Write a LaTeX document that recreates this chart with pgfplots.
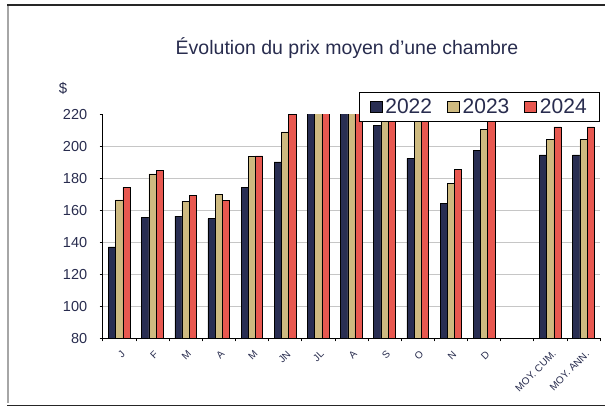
\documentclass[border=0pt]{standalone}
\usepackage{fontspec}
\setmainfont{Liberation Sans}
\usepackage{pgfplots}
\pgfplotsset{compat=1.18}
\definecolor{navy}{RGB}{41,46,82}
\definecolor{tan}{RGB}{206,186,128}
\definecolor{redb}{RGB}{232,88,80}
\definecolor{txt}{RGB}{40,44,78}
\begin{document}
\begin{tikzpicture}[x=1pt,y=1pt]
\path[use as bounding box] (0,0) rectangle (605,408);
\draw[gray!70, line width=2pt] (7.5,5) -- (7.5,403);
\draw[black!85, line width=1.5pt] (7,403) -- (606,403);
\draw[black!85, line width=1.5pt] (7,2.5) -- (606,2.5);
\node[font=\fontsize{19.5}{22}\selectfont, text=txt] at (347,360) {Évolution du prix moyen d'une chambre};
\node[font=\fontsize{15}{18}\selectfont, text=txt] at (63,320) {\$};
\begin{axis}[
  at={(102.7pt,69.7pt)}, anchor=south west,
  scale only axis, width=497.3pt, height=224pt,
  xmin=-0.5, xmax=14.5, ymin=80, ymax=220,
  axis x line*=bottom, axis y line*=left,
  axis line style={black, line width=0.6pt},
  ybar=0pt, bar width=7.2pt,
  xtick={0,...,14},
  xticklabels={J,F,M,A,M,JN,JL,A,S,O,N,D,,MOY. CUM.,MOY. ANN.},
  major x tick style={draw=none},
  minor xtick={-0.5,0.5,...,14.5},
  minor x tick style={black, line width=0.5pt},
  tick align=outside,
  minor tick length=3pt, major tick length=3pt,
  /pgf/number format/assume math mode=true,
  x tick label style={rotate=45, anchor=north east, font=\fontsize{10}{12}\selectfont, text=txt, inner sep=1pt, yshift=-6pt, xshift=-4pt},
  ytick={80,100,...,200},
  extra y ticks={220}, extra y tick style={grid=none},
  y tick label style={font=\fontsize{14.5}{16}\selectfont, text=txt, xshift=-9pt},
  ymajorgrids, grid style={gray!45, line width=0.6pt},
  y tick style={black, line width=0.5pt},
  legend columns=3,
  legend style={at={(1.0,1.101)}, anchor=north east, draw=black, line width=0.6pt,
    font=\fontsize{21}{22}\selectfont, text=txt, inner xsep=10pt, inner ysep=4.5pt,
    /tikz/every even column/.append style={column sep=12pt},
    nodes={inner xsep=3pt}},
  legend image code/.code={\draw[#1, draw=black, line width=0.6pt] (0pt,-5.5pt) rectangle (12pt,5.5pt);},
]
\addplot[fill=navy, draw=black, line width=0.5pt] coordinates {(0,137.1)(1,155.6)(2,156.3)(3,154.8)(4,174.2)(5,190.2)(6,240)(7,240)(8,213.3)(9,192.5)(10,164.4)(11,197.5)(13,194.6)(14,194.6)};
\addplot[fill=tan, draw=black, line width=0.5pt] coordinates {(0,166.5)(1,182.7)(2,165.6)(3,169.8)(4,193.5)(5,209.0)(6,240)(7,240)(8,230)(9,222)(10,176.9)(11,210.8)(13,204.4)(14,204.4)};
\addplot[fill=redb, draw=black, line width=0.5pt] coordinates {(0,174.4)(1,184.8)(2,169.4)(3,166.3)(4,194.0)(5,220.0)(6,240)(7,240)(8,235)(9,228)(10,185.8)(11,222)(13,212.1)(14,212.1)};
\legend{2022,2023,2024}
\end{axis}
\end{tikzpicture}
\end{document}
